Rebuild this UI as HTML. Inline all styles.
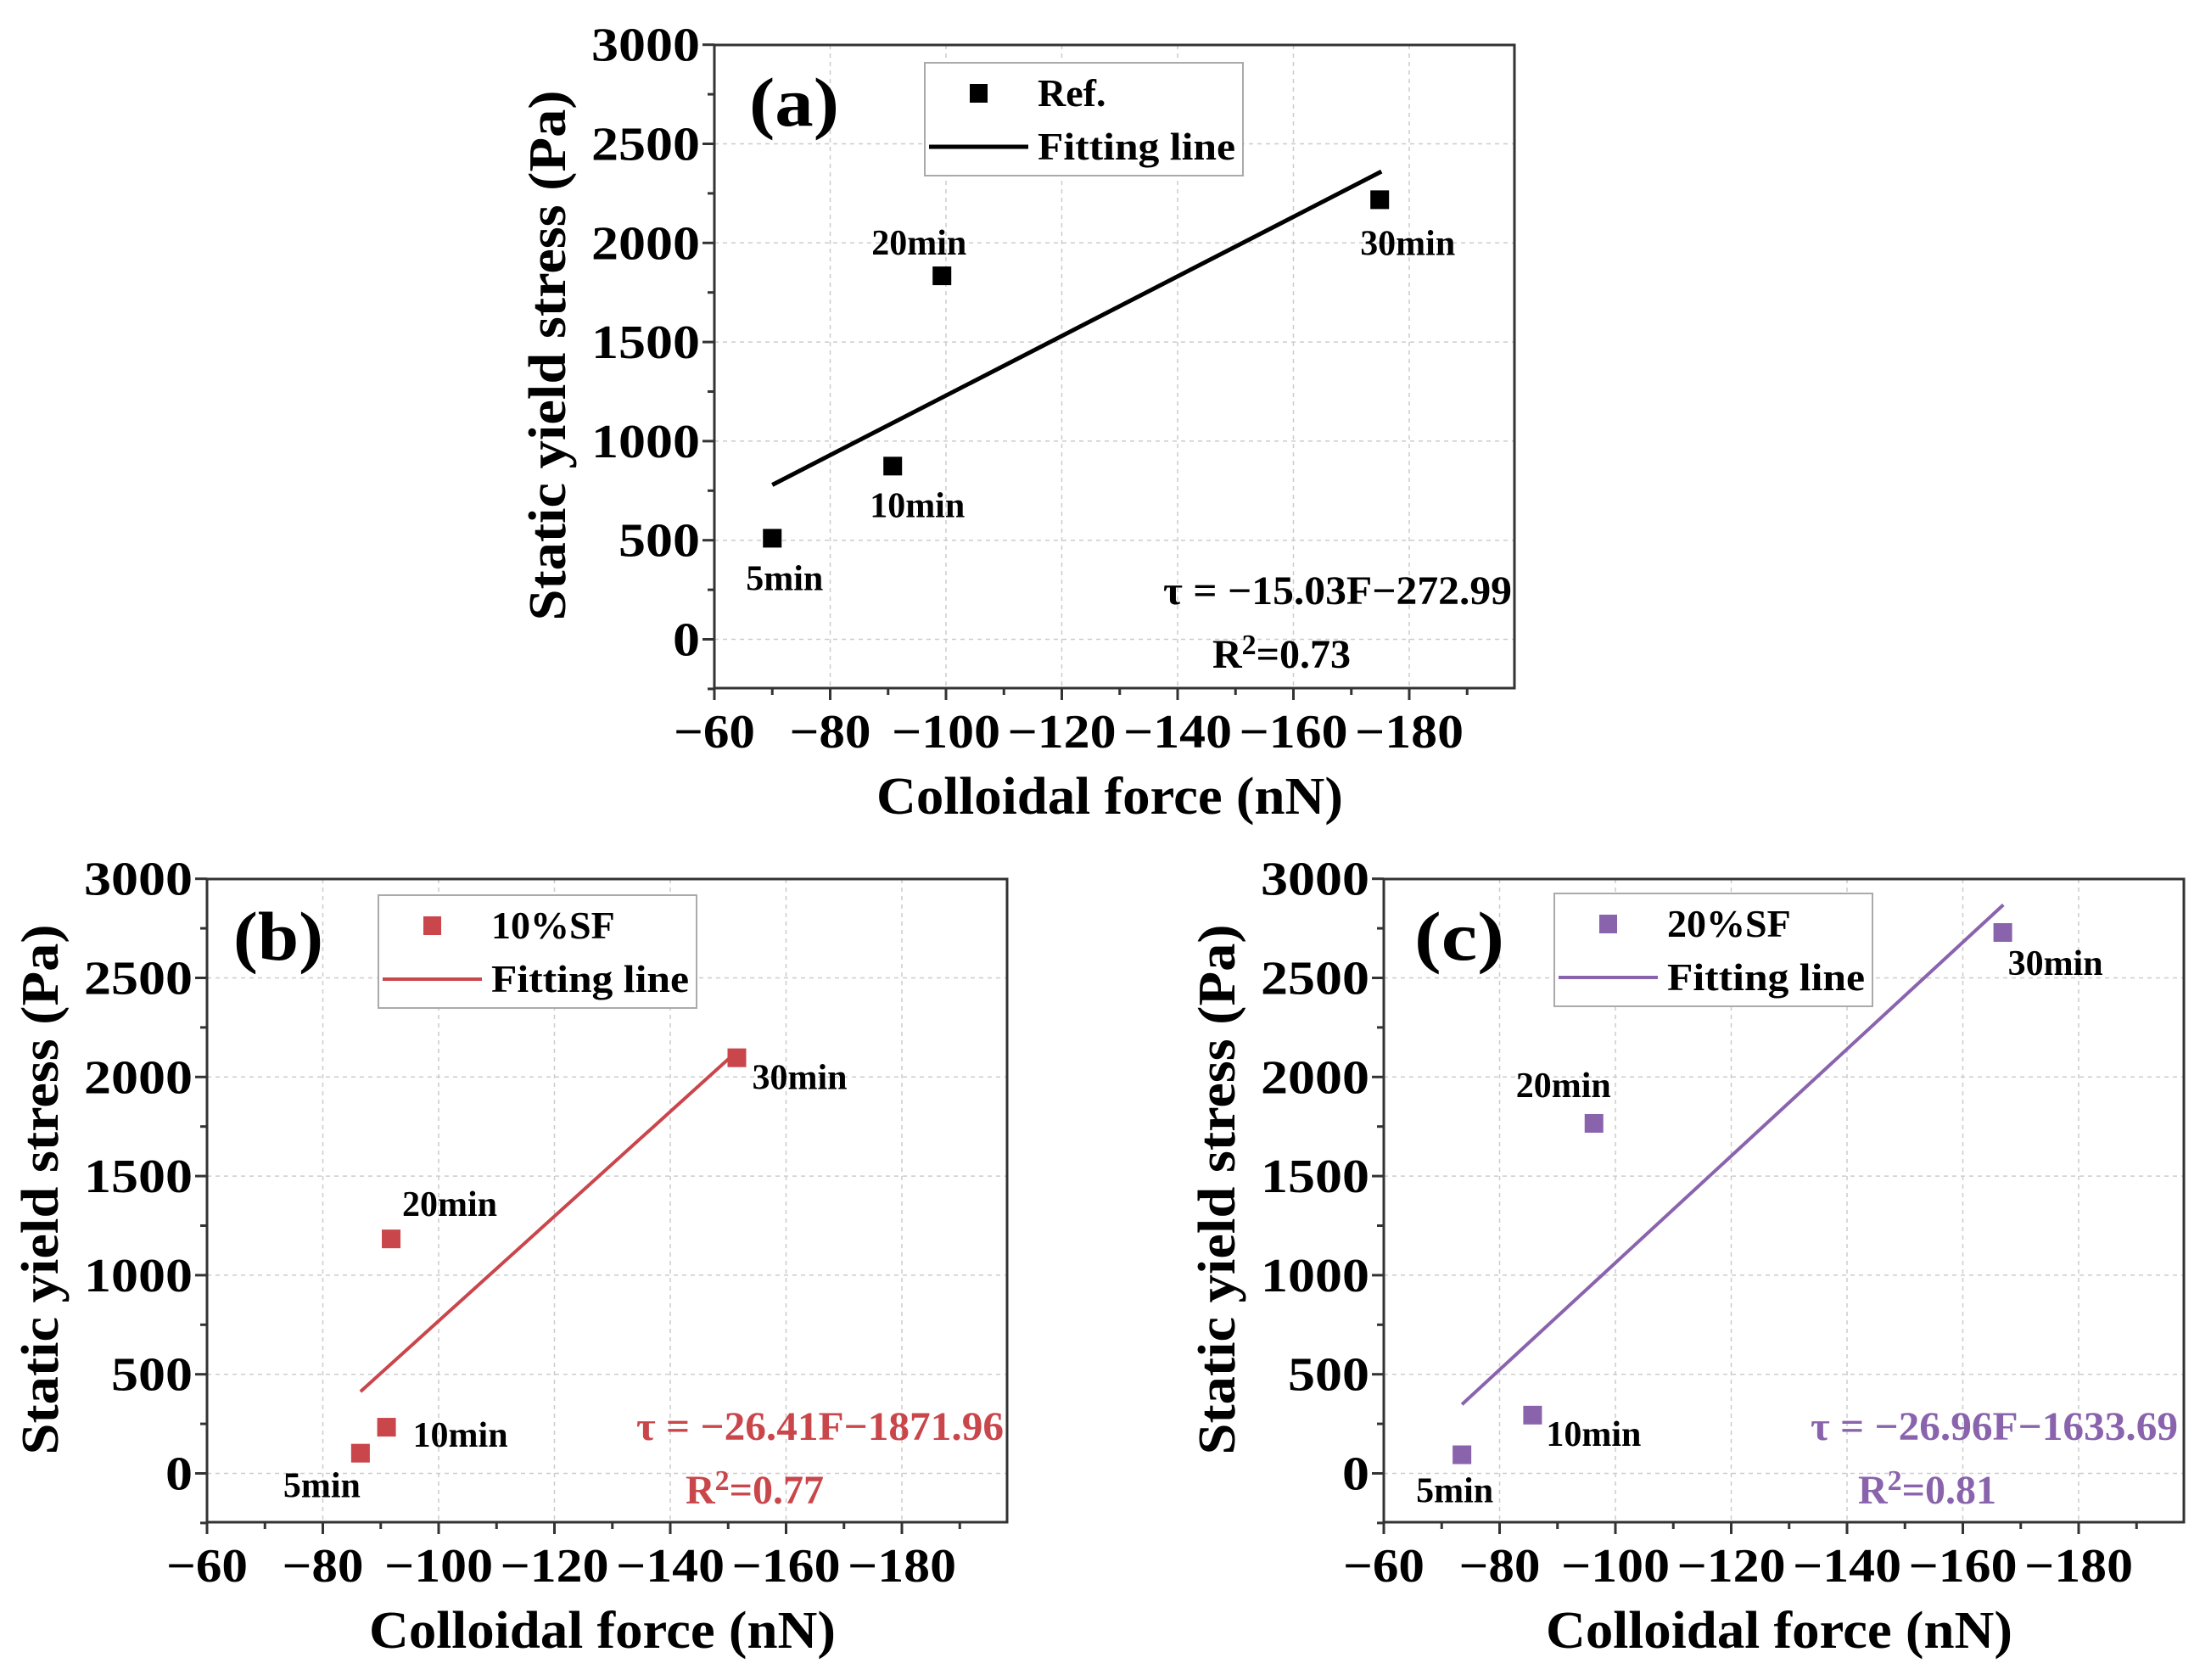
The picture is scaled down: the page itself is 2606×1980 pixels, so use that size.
<!DOCTYPE html>
<html><head><meta charset="utf-8"><style>
html,body{margin:0;padding:0;background:#fff;}
svg{display:block;font-family:"Liberation Serif",serif;font-weight:bold;}
</style></head><body>
<svg id="fig" width="2606" height="1980" viewBox="0 0 2606 1980" xmlns="http://www.w3.org/2000/svg"></svg>
<script>
// ---- data ----
const xTicks = [-60, -80, -100, -120, -140, -160, -180];
const yTicks = [0, 500, 1000, 1500, 2000, 2500, 3000];
const timeLabels = ["5min", "10min", "20min", "30min"];
const refForce = [-70, -90.8, -99.3, -174.9];
const refStress = [510, 874, 1834, 2218];
const refFit = [-15.03, -272.99];
const refFitRange = [-70, -175.2];
const sf10Force = [-86.5, -91, -91.8, -151.5];
const sf10Stress = [102, 233, 1183, 2097];
const sf10Fit = [-26.41, -1871.96];
const sf10FitRange = [-86.5, -151];
const sf20Force = [-73.5, -85.7, -96.3, -166.9];
const sf20Stress = [94, 294, 1766, 2729];
const sf20Fit = [-26.96, -1633.69];
const sf20FitRange = [-73.5, -167];

const NS = "http://www.w3.org/2000/svg";
const svg = document.getElementById("fig");
function mk(tag, attrs, parent) {
  const e = document.createElementNS(NS, tag);
  for (const k in attrs) e.setAttribute(k, attrs[k]);
  (parent || svg).appendChild(e);
  return e;
}
function txt(s, attrs, parent) { const t = mk("text", attrs, parent); t.textContent = s; return t; }

const panels = [
  {id:"a", L:842, T:53, color:"#000", name:"Ref.", xs:refForce, ys:refStress, fit:refFit, fr:refFitRange,
   legX:1090, legY:74, tagX:883,
   lab:[[-31,61,"start"],[-27,60,"start"],[-83,-25,"start"],[-23,65,"start"]],
   eq:"τ = −15.03F−272.99", eqX:1782, eqY:712, r2:"0.73", r2X:1429, r2Y:787},
  {id:"b", L:244, T:1036, color:"#c9464b", name:"10%SF", xs:sf10Force, ys:sf10Stress, fit:sf10Fit, fr:sf10FitRange,
   legX:446, legY:1055, tagX:275,
   lab:[[0,52,"end"],[31,23,"start"],[13,-27,"start"],[18,37,"start"]],
   eq:"τ = −26.41F−1871.96", eqX:1183, eqY:1697, r2:"0.77", r2X:808, r2Y:1772},
  {id:"c", L:1631, T:1036, color:"#8a63ad", name:"20%SF", xs:sf20Force, ys:sf20Stress, fit:sf20Fit, fr:sf20FitRange,
   legX:1832, legY:1053, tagX:1667,
   lab:[[37,56,"end"],[16,36,"start"],[-92,-31,"start"],[6,50,"start"]],
   eq:"τ = −26.96F−1633.69", eqX:2567, eqY:1697, r2:"0.81", r2X:2190, r2Y:1772}
];

panels.forEach(p => {
  const W = 943, H = 758;
  const pxPer20 = 136.5, pxPer500 = 116.8;
  const y0 = p.T + 700.5;
  const X = v => p.L + (-(v) - 60) / 20 * pxPer20;
  const Y = v => y0 - v / 500 * pxPer500;
  const g = mk("g", {}, svg);
  
  
  const grid = mk("g", {}, g);
  
  
  xTicks.slice(1).forEach(v => mk("line", {x1:X(v), x2:X(v), y1:p.T, y2:p.T+H, stroke:"#ccc", "stroke-width":1.5, "stroke-dasharray":"5 5"}, grid));
  yTicks.forEach(v => mk("line", {x1:p.L, x2:p.L+W, y1:Y(v), y2:Y(v), stroke:"#ccc", "stroke-width":1.5, "stroke-dasharray":"5 5"}, grid));
  const fr = mk("rect", {x:p.L, y:p.T, width:W, height:H, fill:"none", stroke:"#333", "stroke-width":3}, g);
  
  
  const xa = mk("g", {}, g);
  
  
  for (let v = -60; v >= -190; v -= 10) {
    const major = v % 20 === 0;
    mk("line", {x1:X(v), x2:X(v), y1:p.T+H, y2:p.T+H+(major?14:8), stroke:"#333", "stroke-width":3}, xa);
  }
  xTicks.forEach(v => {
    const s = (v < 0 ? "−" : "") + Math.abs(v);
    const t = txt(s, {x:X(v), y:p.T+H+70, "text-anchor":"middle", "font-size":56, textLength:s.length*32, lengthAdjust:"spacingAndGlyphs", fill:"#000"}, xa);
    
    
  });
  const ya = mk("g", {}, g);
  
  
  for (let v = -250; v <= 3000; v += 250) {
    const major = v % 500 === 0;
    mk("line", {x1:p.L, x2:p.L-(major?14:8), y1:Y(v), y2:Y(v), stroke:"#333", "stroke-width":3}, ya);
  }
  yTicks.forEach(v => {
    const s = String(v);
    const t = txt(s, {x:p.L-17, y:Y(v)+19, "text-anchor":"end", "font-size":56, textLength:s.length*32, lengthAdjust:"spacingAndGlyphs", fill:"#000"}, ya);
    
    
  });
  const xt = txt("Colloidal force (nN)", {x:p.L+466, y:p.T+906, "text-anchor":"middle", "font-size":62, textLength:550, lengthAdjust:"spacingAndGlyphs", fill:"#000"}, g);
  
  
  const yt = txt("Static yield stress (Pa)", {x:0, y:0, "text-anchor":"middle", "font-size":62, textLength:625, lengthAdjust:"spacingAndGlyphs", fill:"#000", transform:`translate(${p.L-176},${p.T+366}) rotate(-90)`}, g);
  
  
  const tag = txt("(" + p.id + ")", {x:p.tagX, y:p.T+95, "font-size":82, textLength:106, lengthAdjust:"spacingAndGlyphs", fill:"#000"}, g);
  
  
  const fl = mk("line", {x1:X(p.fr[0]), y1:Y(p.fit[0]*p.fr[0]+p.fit[1]), x2:X(p.fr[1]), y2:Y(p.fit[0]*p.fr[1]+p.fit[1]), stroke:p.color, "stroke-width":p.id==="a"?5:4}, g);
  
  
  p.xs.forEach((xv, i) => {
    const cx = X(xv), cy = Y(p.ys[i]);
    const r = mk("rect", {x:cx-11, y:cy-11, width:22, height:22, fill:p.color}, g);
    
    
    const o = p.lab[i];
    const t = txt(timeLabels[i], {x:cx+o[0], y:cy+o[1], "text-anchor":o[2], "font-size":42, textLength:timeLabels[i].length===4?91:112, lengthAdjust:"spacingAndGlyphs", fill:"#000"}, g);
    
    
  });
  const lg = mk("g", {}, g);
  
  
  mk("rect", {x:p.legX, y:p.legY, width:375, height:133, fill:"#fff", stroke:"#aaa", "stroke-width":2}, lg);
  mk("rect", {x:p.legX+53, y:p.legY+25, width:21, height:22, fill:p.color}, lg);
  mk("line", {x1:p.legX+5, x2:p.legX+122, y1:p.legY+99, y2:p.legY+99, stroke:p.color, "stroke-width":p.id==="a"?5:4}, lg);
  const l1 = txt(p.name, {x:p.legX+133, y:p.legY+51, "font-size":46, fill:"#000"}, lg);
  
  
  const l2 = txt("Fitting line", {x:p.legX+133, y:p.legY+114, "font-size":46, textLength:233, lengthAdjust:"spacingAndGlyphs", fill:"#000"}, lg);
  
  
  const eq = txt(p.eq, {x:p.eqX, y:p.eqY, "text-anchor":"end", "font-size":48, textLength:p.id==="a"?411:433, lengthAdjust:"spacingAndGlyphs", fill:p.color}, g);
  
  
  const r2 = mk("text", {x:p.r2X, y:p.r2Y, "font-size":48, fill:p.color}, g);
  
  
  r2.appendChild(document.createTextNode("R"));
  const sup = mk("tspan", {dy:-16, "font-size":34}, r2); sup.textContent = "2";
  const rest = mk("tspan", {dy:16}, r2); rest.textContent = "=" + p.r2;
});
</script>
</body></html>
